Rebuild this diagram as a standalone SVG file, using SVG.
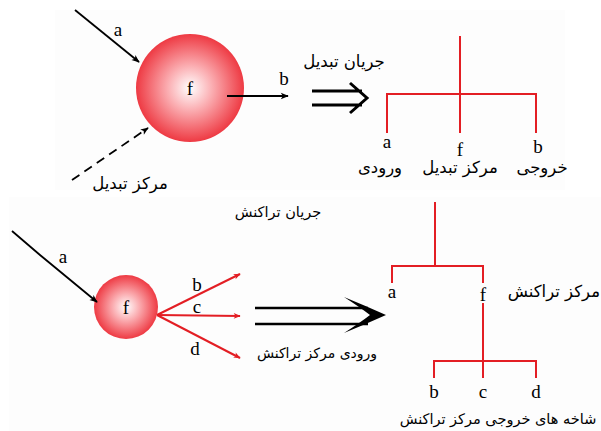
<svg xmlns="http://www.w3.org/2000/svg" width="601" height="431" viewBox="0 0 601 431">
<defs>
<radialGradient id="ball" cx="0.5" cy="0.5" r="0.5">
<stop offset="0" stop-color="#ffffff"/>
<stop offset="0.4" stop-color="#fbb0b4"/>
<stop offset="1" stop-color="#ee3a43"/>
</radialGradient>
<marker id="ah" viewBox="0 0 10 10" refX="9" refY="5" markerWidth="10" markerHeight="8" markerUnits="userSpaceOnUse" orient="auto">
<path d="M0,1 L10,5 L0,9 L2.5,5 Z" fill="#000"/>
</marker>
<marker id="ahr" viewBox="0 0 10 10" refX="9" refY="5" markerWidth="10" markerHeight="7" markerUnits="userSpaceOnUse" orient="auto">
<path d="M0,1 L10,5 L0,9 L2.5,5 Z" fill="#e31e24"/>
</marker>
</defs>
<style>
.lat{font-family:"Liberation Serif","Times New Roman",serif;font-size:19px;fill:#000;text-anchor:middle}
.fa{font-family:"DejaVu Sans","Noto Sans",sans-serif;font-size:16.5px;fill:#000;text-anchor:middle;direction:rtl}
.fs{font-size:14.5px}
.blk{stroke:#000;stroke-width:1.8;fill:none}
.red{stroke:#e31e24;stroke-width:2;fill:none}
.dbl{stroke:#000;stroke-width:3;fill:none}
</style>
<rect x="0" y="0" width="601" height="431" fill="#ffffff"/>
<rect x="55" y="10" width="510" height="180" fill="#fdfdfd"/>
<rect x="9" y="197" width="592" height="234" fill="#fdfdfd"/>

<g id="node-f-top">
<circle cx="190" cy="88" r="54" fill="url(#ball)"/>
<text class="lat" x="190" y="95">f</text>
</g>
<g id="node-f-bottom">
<circle cx="126" cy="307" r="32" fill="url(#ball)"/>
<text class="lat" x="126" y="314">f</text>
</g>

<g id="connectors">
<line class="blk" x1="75" y1="10" x2="139" y2="62" marker-end="url(#ah)"/>
<line class="blk" x1="227" y1="96" x2="288" y2="96" marker-end="url(#ah)"/>
<line class="blk" x1="72" y1="180" x2="148" y2="128" stroke-dasharray="9,6" marker-end="url(#ah)"/>
<path class="blk" d="M12,231 L40,255 L97,302" marker-end="url(#ah)"/>
<line class="red" x1="157" y1="315" x2="240" y2="274" stroke-width="1.6" marker-end="url(#ahr)"/>
<line class="red" x1="157" y1="315" x2="240" y2="316" stroke-width="1.6" marker-end="url(#ahr)"/>
<line class="red" x1="157" y1="315" x2="240" y2="358" stroke-width="1.6" marker-end="url(#ahr)"/>
</g>

<g id="double-arrow-top">
<path class="dbl" d="M312,91 H362 M312,105 H362 M350,83 L367,98 L350,113"/>
</g>
<g id="double-arrow-bottom">
<path d="M255,308 H368 M255,324 H368" stroke="#000" stroke-width="2.5" fill="none"/>
<path d="M344,297 Q366,306 386,315 Q366,324 344,333 Q361,322 370,315 Q361,308 344,297 Z" fill="#000"/>
</g>

<g id="tree-top">
<path class="red" d="M460,36 V133 M387,133 V94 H536 V133"/>
</g>
<g id="tree-bottom">
<path class="red" d="M435,202 V266 M392,283 V266 H483 V283 M483,303 V378 M434,378 V361 H536 V378"/>
</g>

<g id="labels">
<text class="lat" x="118" y="36">a</text>
<text class="lat" x="284" y="85">b</text>
<text class="fa" x="130" y="189">مرکز تبدیل</text>
<text class="fa" x="344" y="67">جریان تبدیل</text>
<text class="lat" x="387" y="148">a</text>
<text class="lat" x="460" y="156">f</text>
<text class="lat" x="538" y="153">b</text>
<text class="fa" x="380" y="173">ورودی</text>
<text class="fa" x="460" y="173">مرکز تبدیل</text>
<text class="fa" x="542" y="173">خروجی</text>

<text class="fa fs" x="278" y="217">جریان تراکنش</text>
<text class="lat" x="63" y="263">a</text>
<text class="lat" x="197" y="291">b</text>
<text class="lat" x="197" y="313">c</text>
<text class="lat" x="195" y="355">d</text>
<text class="fa" x="317" y="358" style="font-size:14px">ورودی مرکز تراکنش</text>
<text class="lat" x="392" y="298">a</text>
<text class="lat" x="483" y="301">f</text>
<text class="fa" x="600" y="297" style="text-anchor:start">مرکز تراکنش</text>
<text class="lat" x="434" y="398">b</text>
<text class="lat" x="483" y="398">c</text>
<text class="lat" x="536" y="398">d</text>
<text class="fa" x="498" y="424" style="font-size:14.5px">شاخه های خروجی مرکز تراکنش</text>
</g>
</svg>
